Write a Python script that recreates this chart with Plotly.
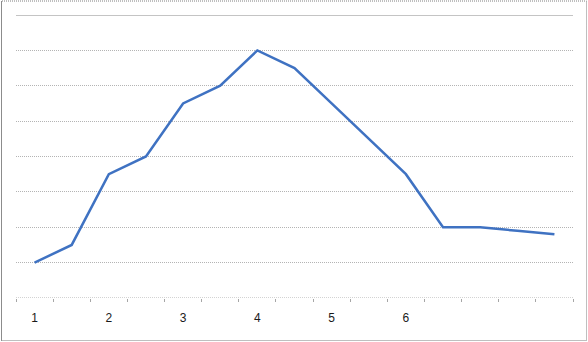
import plotly.graph_objects as go

categories = list(range(1, 16))
values = [1.0, 1.5, 3.5, 4.0, 5.5, 6.0, 7.0, 6.5, 5.5, 4.5, 3.5, 2.0, 2.0, 1.9, 1.8]
tick_positions = [1, 3, 5, 7, 9, 11]
tick_labels = ["1", "2", "3", "4", "5", "6"]

W, H = 588, 342
L, R, T, B = 16, 15, 15, 44
pw, ph = W - L - R, H - T - B

fig = go.Figure()
fig.add_trace(go.Scatter(
    x=categories, y=values, mode="lines",
    line=dict(color="#3F72C2", width=2.5),
    hoverinfo="skip", showlegend=False,
))

def px_x(p):
    return (p - L) / pw

def px_y(p):
    return (H - B - p) / ph

fig.update_layout(
    width=W, height=H,
    margin=dict(l=L, r=R, t=T, b=B, pad=0),
    paper_bgcolor="white", plot_bgcolor="white",
    font=dict(family="Liberation Sans, Arial, sans-serif", size=12, color="#1a1a1a"),
    xaxis=dict(
        range=[0.5, 15.5], showgrid=False, zeroline=False, showline=False,
        tickmode="array", tickvals=tick_positions, ticktext=tick_labels,
        ticks="", ticklabelstandoff=11,
        minor=dict(tickmode="linear", tick0=0.5, dtick=1, ticks="outside",
                   ticklen=3, tickcolor="#A6A6A6", tickwidth=1, showgrid=False),
    ),
    yaxis=dict(
        range=[0, 8], dtick=1, tick0=0, showticklabels=False, ticks="",
        showgrid=True, gridcolor="#B4B4B4", gridwidth=1, griddash="1px,1px",
        zeroline=False, showline=False,
    ),
    shapes=[
        # solid top gridline
        dict(type="line", xref="paper", yref="y", x0=0, x1=1, y0=8, y1=8,
             line=dict(color="#C4C4C4", width=2)),
        # dotted x axis line
        dict(type="line", xref="paper", yref="y", x0=0, x1=1, y0=0, y1=0,
             line=dict(color="#A6A6A6", width=1, dash="1px,1px")),
        # chart border
        dict(type="rect", xref="paper", yref="paper",
             x0=px_x(1.5), x1=px_x(586.5), y0=px_y(340.5), y1=px_y(1.0),
             line=dict(color="#7F7F7F", width=1, dash="1px,1px"), layer="below"),
        dict(type="line", xref="paper", yref="paper",
             x0=px_x(1.5), x1=px_x(1.5), y0=px_y(340.5), y1=px_y(1.0),
             line=dict(color="#8C8C8C", width=1)),
    ],
)

fig.write_html("out.html")
